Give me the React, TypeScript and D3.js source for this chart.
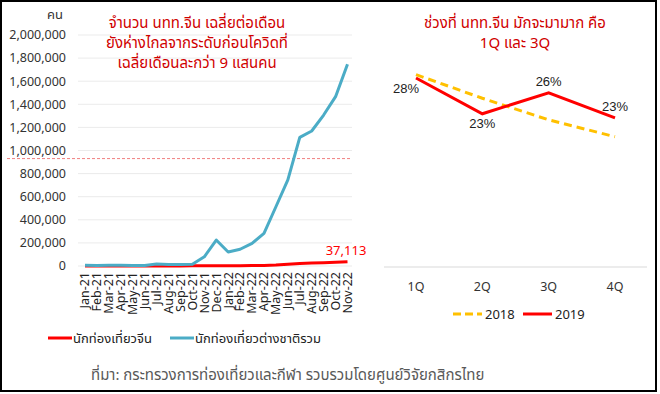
import React from "react";
import * as d3 from "d3";

const months = ["Jan-21","Feb-21","Mar-21","Apr-21","May-21","Jun-21","Jul-21","Aug-21","Sep-21","Oct-21","Nov-21","Dec-21","Jan-22","Feb-22","Mar-22","Apr-22","May-22","Jun-22","Jul-22","Aug-22","Sep-22","Oct-22","Nov-22"];
const totalForeign = [7000,5000,7000,6000,5000,5000,18000,13000,13000,15000,80000,225000,121000,145000,196000,283000,513000,745000,1114000,1169000,1307000,1466000,1746000];
const chinese = [300,300,400,400,500,500,800,900,1000,1200,1500,2000,2500,3000,3500,5000,9000,16000,22000,27000,29000,32000,37113];
const preCovidAvg = 930000;
const yTicks = [0,200000,400000,600000,800000,1000000,1200000,1400000,1600000,1800000,2000000];

const quarters = ["1Q","2Q","3Q","4Q"];
const share2018 = [28.5,25.0,21.8,19.3];
const share2019 = [28.0,22.7,25.8,22.1];
const share2019Labels = ["28%","23%","26%","23%"];
const labelPlacement = ["left","below","above","above"];

const leftTitle = ["จำนวน นทท.จีน เฉลี่ยต่อเดือน","ยังห่างไกลจากระดับก่อนโควิดที่","เฉลี่ยเดือนละกว่า 9 แสนคน"];
const rightTitle = ["ช่วงที่ นทท.จีน มักจะมามาก คือ","1Q และ 3Q"];

const FONT = "'Noto Sans Thai', 'Noto Sans', 'DejaVu Sans', sans-serif";

export default function App() {
  const x = d3.scalePoint<string>().domain(months).range([85, 347.5]);
  const y = d3.scaleLinear().domain([0, 2000000]).range([266, 35]);
  const line = d3.line<number>().x((_, i) => x(months[i]) as number).y(d => y(d));

  const qx = d3.scalePoint<string>().domain(quarters).range([416, 615]);
  const qy = d3.scaleLinear().domain([0, 35]).range([267, 267 - 35 * 6.75]);
  const qline = d3.line<number>().x((_, i) => qx(quarters[i]) as number).y(d => qy(d));

  const fmt = d3.format(",");

  return (
    <div style={{ position: "absolute", left: 0, top: 0 }}>
      <svg width={660} height={394} style={{ display: "block", fontFamily: FONT }}>
        <rect x={0} y={0} width={660} height={394} fill="#fff" />
        <rect x={1} y={1} width={655} height={390} fill="none" stroke="#000" strokeWidth={2} />

        {yTicks.map(t => (
          <line key={t} x1={78} x2={352} y1={y(t)} y2={y(t)} stroke="#ebebeb" strokeWidth={1} />
        ))}
        {yTicks.map(t => (
          <text key={"l" + t} x={66} y={y(t)} dy="0.35em" textAnchor="end" fontSize={12.5} fill="#333">{fmt(t)}</text>
        ))}
        <text x={63} y={19} textAnchor="end" fontSize={13} fill="#333">คน</text>

        <line x1={7} x2={352} y1={y(preCovidAvg)} y2={y(preCovidAvg)} stroke="#f08080" strokeWidth={1} strokeDasharray="3,2" />

        <path d={line(chinese) || ""} fill="none" stroke="#ff0000" strokeWidth={3} strokeLinejoin="round" />
        <path d={line(totalForeign) || ""} fill="none" stroke="#4bacc6" strokeWidth={3} strokeLinejoin="round" />

        <text x={346} y={y(chinese[chinese.length - 1]) - 7} textAnchor="middle" fontSize={13} fill="#ff0000">{fmt(chinese[chinese.length - 1])}</text>

        {months.map(m => (
          <text key={m} transform={`translate(${x(m)},272) rotate(-90)`} textAnchor="end" dy="0.35em" fontSize={12.5} fill="#222">{m}</text>
        ))}

        {leftTitle.map((t, i) => (
          <text key={t} x={197} y={28 + i * 20} textAnchor="middle" fontSize={15} fill="#d00000">{t}</text>
        ))}

        <line x1={48} x2={72} y1={338} y2={338} stroke="#ff0000" strokeWidth={3} />
        <text x={73} y={338} dy="0.35em" fontSize={13} fill="#222">นักท่องเที่ยวจีน</text>
        <line x1={170} x2={194} y1={338} y2={338} stroke="#4bacc6" strokeWidth={3} />
        <text x={195} y={338} dy="0.35em" fontSize={13} fill="#222">นักท่องเที่ยวต่างชาติรวม</text>

        <text x={91} y={380} fontSize={15} fill="#595959">ที่มา: กระทรวงการท่องเที่ยวและกีฬา รวบรวมโดยศูนย์วิจัยกสิกรไทย</text>

        {rightTitle.map((t, i) => (
          <text key={t} x={515} y={28 + i * 20} textAnchor="middle" fontSize={15} fill="#d00000">{t}</text>
        ))}
        <line x1={384} x2={647} y1={267} y2={267} stroke="#d9d9d9" strokeWidth={1} />
        {quarters.map(q => (
          <text key={q} x={qx(q)} y={287} dy="0.35em" textAnchor="middle" fontSize={12.5} fill="#333">{q}</text>
        ))}
        <path d={qline(share2018) || ""} fill="none" stroke="#ffc000" strokeWidth={3} strokeDasharray="8,5" />
        <path d={qline(share2019) || ""} fill="none" stroke="#ff0000" strokeWidth={3} />
        {share2019.map((v, i) => {
          const px = qx(quarters[i]) as number;
          const py = qy(v);
          const p = labelPlacement[i];
          const dx = p === "left" ? -10 : 0;
          const dy = p === "left" ? 10 : p === "below" ? 10 : -11;
          return (
            <text key={i} x={px + dx} y={py + dy} dy="0.35em" textAnchor="middle" fontSize={13} fill="#222" fontFamily="'Liberation Sans', Arial, sans-serif">{share2019Labels[i]}</text>
          );
        })}

        <line x1={453} x2={482} y1={314} y2={314} stroke="#ffc000" strokeWidth={3} strokeDasharray="8,4" />
        <text x={485} y={314} dy="0.35em" fontSize={13} fill="#222">2018</text>
        <line x1={523} x2={552} y1={314} y2={314} stroke="#ff0000" strokeWidth={3} />
        <text x={555} y={314} dy="0.35em" fontSize={13} fill="#222">2019</text>
      </svg>
    </div>
  );
}
